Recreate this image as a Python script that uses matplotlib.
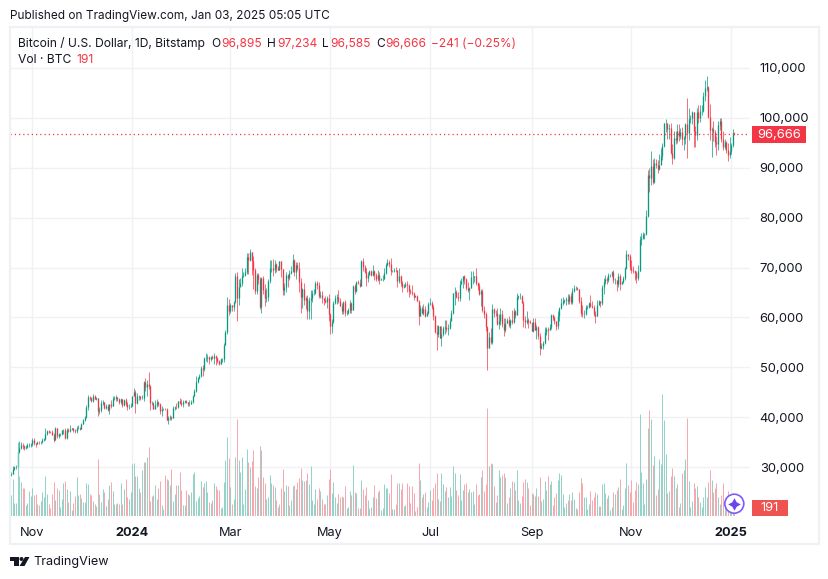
import numpy as np
import matplotlib
matplotlib.use("Agg")
import matplotlib.pyplot as plt
from matplotlib.patches import Rectangle, Circle, Polygon

plt.rcParams['font.family'] = ['Inter', 'DejaVu Sans']

# daily closes, thousands of USD, 19 Oct 2023 - 3 Jan 2025
closes = [
    28.7,29.7,30.0,30.0,33.0,33.9,34.5,34.2,33.9,34.1,34.5,34.5,34.65,
    35.4,34.9,34.7,35.1,35.0,35.0,35.4,35.6,36.7,37.3,37.1,37.0,36.5,35.5,37.9,36.2,36.6,36.6,37.4,37.5,35.8,37.4,37.3,37.7,37.8,37.5,37.2,37.8,37.9,37.7,
    38.7,39.5,40.0,42.0,44.0,43.8,43.3,44.2,43.7,43.8,41.2,41.5,42.9,43.0,41.9,42.3,41.4,42.6,42.3,43.7,43.9,44.0,43.7,43.0,43.6,42.5,43.4,42.6,42.1,42.1,42.3,
    44.2,45.0,42.8,44.2,44.2,43.9,43.9,47.0,46.1,46.6,46.3,42.8,42.9,41.7,42.5,43.1,42.7,41.3,41.6,41.7,41.6,39.5,39.9,40.1,39.9,41.8,42.1,42.0,43.3,42.9,42.6,
    43.1,43.2,43.0,42.6,42.7,43.1,44.3,45.3,47.1,47.8,48.3,49.9,49.7,51.8,51.9,52.1,51.6,52.1,51.8,52.3,51.9,51.3,50.7,51.6,51.7,54.5,57.1,62.5,61.2,
    62.4,62.0,63.1,68.3,63.8,66.1,66.9,68.3,68.5,69.0,72.1,71.5,73.1,71.4,69.5,65.3,68.4,67.6,62.0,67.9,65.5,63.8,64.0,67.2,69.9,69.9,69.5,70.7,69.9,69.6,71.3,
    69.7,65.5,66.0,68.5,67.8,68.9,69.4,71.6,69.1,70.6,70.0,67.1,64.0,65.7,63.4,63.8,61.3,63.5,63.8,64.9,64.9,66.8,66.4,64.3,64.5,63.8,63.4,63.1,63.8,60.6,
    58.3,59.1,62.9,63.9,64.0,63.2,62.3,61.2,63.0,60.8,60.8,61.5,62.9,61.5,66.2,65.2,67.0,66.9,66.3,71.4,70.1,69.1,67.9,68.5,69.3,68.5,69.4,68.4,67.6,68.4,67.5,
    67.7,67.7,68.8,70.5,71.1,70.8,69.3,69.3,69.6,69.5,67.3,68.2,66.8,66.0,66.2,66.6,66.5,65.2,65.0,64.9,64.1,64.3,63.2,60.3,61.8,60.9,61.6,60.3,60.9,62.7,
    62.9,62.0,60.2,57.0,56.6,58.2,55.9,56.7,57.9,58.0,57.7,57.9,59.2,60.8,64.8,65.1,64.1,63.9,66.7,67.2,68.2,67.6,65.9,65.4,65.8,68.0,68.0,68.3,66.8,66.2,64.6,
    65.3,61.5,60.7,58.1,53.9,56.0,55.1,61.7,60.8,60.9,58.7,59.3,60.6,58.7,57.5,58.9,59.5,58.4,59.5,59.0,61.2,60.4,64.1,64.2,64.2,62.9,59.5,59.0,59.4,59.1,58.9,
    57.3,59.1,57.5,58.0,56.2,53.9,54.2,54.9,57.1,57.7,57.4,58.1,60.5,60.0,59.2,58.2,60.3,61.8,62.9,63.2,63.4,63.6,63.3,64.3,63.1,65.2,65.8,65.9,65.6,63.3,
    60.8,60.6,60.7,62.1,62.1,62.8,62.2,62.1,60.6,60.3,62.4,63.2,62.8,66.0,67.0,67.6,67.4,68.4,68.4,69.0,67.4,67.4,66.7,68.2,66.6,67.0,67.9,69.9,72.7,72.3,70.2,
    69.5,69.3,68.8,67.8,69.4,75.6,75.9,76.5,76.7,80.4,88.6,88.0,90.4,87.2,91.0,90.6,89.8,90.5,92.3,94.3,98.9,98.9,97.7,98.0,93.0,91.9,95.9,95.6,97.4,96.4,
    97.2,95.8,96.0,98.7,96.9,99.8,99.9,101.2,97.3,96.6,101.1,100.0,101.4,101.4,104.4,106.0,106.1,100.2,97.5,97.7,97.2,95.1,94.7,98.6,99.4,95.7,94.1,95.2,93.5,92.6,93.4,
    94.5,96.895,96.666,
]
highs = [
    29.0,30.2,30.3,30.5,34.8,35.2,35.1,34.8,34.5,34.5,34.8,34.8,34.8,
    35.9,35.9,34.9,35.2,35.3,35.3,35.9,35.9,37.9,37.5,37.4,37.2,37.4,36.8,38.0,37.9,36.9,36.9,37.5,37.7,37.8,37.8,37.9,38.4,37.9,37.8,37.6,38.2,38.4,38.1,
    38.9,39.7,40.2,42.4,44.5,44.3,44.0,44.7,44.4,44.0,43.8,42.0,43.4,43.4,43.1,42.7,42.7,42.7,43.4,44.3,44.2,44.4,44.0,43.9,43.8,43.7,43.7,43.8,43.1,42.6,42.9,
    44.2,45.9,45.5,44.8,44.4,44.2,44.5,47.2,47.9,47.5,49.0,46.5,43.2,43.1,43.4,43.6,43.2,42.9,42.2,41.9,41.9,41.9,40.2,40.5,40.3,42.2,42.2,42.8,43.3,43.8,43.7,
    43.4,43.4,43.5,43.1,43.5,43.4,44.4,45.6,48.2,48.0,48.6,50.3,50.4,52.0,52.8,52.6,52.2,52.3,52.5,52.9,52.4,52.0,51.5,51.8,51.9,54.8,57.5,64.0,63.6,
    62.9,62.4,63.2,68.9,69.2,67.6,67.9,70.0,69.0,70.0,72.9,72.9,73.7,73.1,72.4,70.0,68.9,68.9,68.1,68.0,68.2,66.6,65.9,67.6,71.5,71.5,71.7,71.5,70.9,70.3,71.4,
    71.3,69.7,66.9,69.2,68.7,69.6,70.3,72.7,71.7,71.1,71.2,71.2,67.9,65.9,66.8,64.3,64.4,64.0,65.4,65.4,65.6,67.2,67.2,67.0,65.2,65.3,63.9,64.3,64.2,64.7,
    60.8,59.6,63.3,64.4,64.6,65.4,63.8,62.9,63.2,63.4,61.4,61.8,63.4,63.0,66.4,66.7,67.3,67.4,67.6,71.5,71.9,70.6,70.0,69.2,69.5,69.5,70.6,69.6,68.9,69.5,69.0,
    67.9,68.5,70.0,71.0,71.7,71.6,71.9,69.5,69.9,70.1,69.6,70.0,68.4,67.3,66.7,67.0,67.2,66.6,65.7,66.4,65.0,64.5,64.5,63.4,62.4,62.3,62.6,62.2,61.2,63.0,
    63.8,63.3,62.4,60.4,58.4,58.5,58.3,58.2,58.3,59.4,59.4,58.6,59.9,61.4,64.9,66.0,65.5,65.1,67.4,67.8,68.3,68.5,67.8,67.0,66.1,69.4,69.4,68.3,70.0,67.0,66.8,
    65.6,65.6,62.2,61.1,58.3,57.1,57.8,62.7,61.8,61.4,61.8,60.7,61.8,61.5,59.8,59.8,59.9,60.2,59.6,61.4,61.8,61.4,64.9,64.5,64.8,64.5,63.2,60.2,61.2,59.9,59.4,
    59.0,59.8,59.8,58.5,58.3,56.9,54.9,55.2,58.1,58.0,58.0,58.6,60.6,60.6,60.3,59.2,61.3,62.0,63.8,64.0,63.6,64.1,64.7,64.6,64.8,65.8,66.4,66.2,66.0,65.7,
    64.1,62.4,61.5,62.5,62.4,63.0,64.5,63.2,62.5,61.3,63.4,63.4,63.2,66.5,67.9,68.4,68.0,68.9,68.7,69.4,69.5,67.8,67.4,68.8,68.7,67.3,68.2,70.2,73.6,72.7,72.7,
    71.6,70.4,69.5,69.4,70.6,76.4,76.9,77.2,77.0,81.5,89.5,89.9,93.4,91.8,91.9,91.8,91.6,92.7,94.0,94.9,99.0,99.7,99.0,98.7,98.9,94.7,97.4,97.4,98.7,98.7,
    98.0,98.1,96.4,99.0,103.9,101.9,100.6,101.4,101.2,98.3,101.9,102.5,102.6,102.6,105.1,107.5,108.3,106.4,102.8,98.2,99.4,97.5,96.4,99.4,99.9,99.9,97.4,95.7,95.4,94.9,96.1,
    95.0,97.8,97.234,
]
lows = [
    28.2,28.6,29.5,29.7,29.9,32.8,33.7,33.7,33.4,33.7,33.9,34.0,34.0,
    34.3,34.5,34.1,34.6,34.6,34.7,34.8,35.3,35.5,36.4,36.8,36.8,36.4,35.0,35.4,35.9,35.9,36.2,36.4,36.7,35.7,35.6,37.0,37.1,37.5,37.1,36.8,36.8,37.6,37.5,
    37.6,38.6,39.3,39.9,41.4,43.4,43.0,43.1,43.6,43.4,40.3,40.7,41.0,42.5,41.7,41.7,41.3,40.6,41.9,42.2,43.4,43.3,43.3,42.6,42.7,42.1,42.2,42.3,41.4,41.6,42.0,
    42.2,44.2,40.8,42.6,43.4,43.4,43.6,43.2,45.3,44.3,45.6,41.5,42.4,41.7,41.7,42.0,42.2,40.7,40.3,41.4,41.5,39.4,38.6,39.5,39.5,39.8,41.4,41.6,41.8,42.7,42.3,
    42.0,42.9,42.9,42.3,42.3,42.6,42.9,44.3,45.1,46.8,47.6,48.1,48.3,49.3,51.3,51.0,50.6,51.2,51.7,50.7,50.5,50.9,50.5,50.6,51.1,51.0,54.4,56.7,60.4,
    60.8,61.3,61.2,62.8,59.2,62.5,66.2,66.2,68.0,68.2,68.6,68.7,71.3,68.5,65.7,64.7,64.6,66.6,61.6,60.8,64.6,62.3,63.0,63.2,66.9,69.2,68.3,68.9,69.2,69.5,69.6,
    68.1,64.5,64.5,65.1,66.0,67.5,68.7,69.0,68.2,67.6,69.6,65.0,60.8,61.9,62.4,61.7,59.7,59.7,59.7,63.1,64.5,64.6,65.7,63.9,63.8,62.9,62.5,62.8,61.9,59.2,
    56.6,56.9,58.8,62.6,62.7,62.9,62.2,60.7,60.7,60.3,60.5,60.7,60.8,60.8,61.4,64.7,65.0,66.6,66.1,66.2,69.3,68.8,66.2,67.0,68.5,68.3,68.3,67.4,67.2,67.2,66.7,
    67.4,67.2,67.6,68.6,70.4,70.2,68.5,69.1,69.1,69.2,66.1,66.9,66.2,65.1,65.9,66.0,65.1,64.1,64.7,64.5,63.4,64.0,63.2,58.5,60.3,60.6,60.4,60.0,60.3,60.7,
    62.4,61.7,59.4,56.8,53.5,56.0,55.8,54.3,56.3,56.6,57.0,56.5,57.7,59.7,60.6,62.4,63.9,63.3,63.3,66.7,65.8,66.6,65.5,65.1,63.4,65.8,66.7,67.0,66.5,65.4,64.4,
    62.3,61.1,59.9,57.2,49.5,53.9,54.6,54.7,60.0,60.3,58.5,57.7,58.4,58.1,56.2,57.1,58.8,58.1,57.9,58.6,58.8,59.8,60.4,63.6,63.6,62.8,58.1,57.8,58.7,57.9,58.8,
    57.2,57.1,57.4,55.6,55.6,52.5,53.7,53.6,54.6,56.4,55.5,57.4,57.6,59.5,58.7,57.5,57.6,59.2,61.7,62.4,62.8,62.4,62.7,62.7,62.7,62.7,65.1,65.4,65.4,62.9,
    60.2,60.0,59.8,60.5,61.7,61.9,62.1,61.8,60.3,58.9,60.3,62.4,62.1,62.5,64.6,66.7,66.7,67.1,68.0,68.1,66.8,66.6,65.3,66.0,65.5,66.6,66.8,67.5,69.7,71.5,69.6,
    68.9,68.8,67.5,66.9,67.5,69.3,74.5,75.7,75.8,76.5,80.2,85.2,86.6,86.7,87.0,90.0,88.9,89.6,90.9,91.6,94.1,97.2,95.7,95.8,92.7,90.8,91.7,94.7,95.0,95.4,
    95.8,94.5,93.6,94.7,91.9,95.5,98.9,98.7,94.2,94.2,95.6,99.0,99.2,100.6,101.2,103.3,105.3,99.9,95.6,92.2,95.3,94.2,92.5,93.5,97.6,95.1,93.5,93.8,92.9,91.3,91.9,
    92.7,94.2,96.585,
]
# volume, units of 50 BTC
volumes = [
    21,37,13,13,74,40,34,28,28,11,13,25,20,
    28,21,22,12,11,15,24,19,40,22,12,8,22,34,16,28,26,9,17,33,35,27,14,25,6,13,20,39,21,22,
    18,14,14,33,32,22,21,15,12,10,57,22,14,27,24,10,17,31,34,25,12,12,13,12,33,12,27,37,19,17,24,
    52,53,40,40,28,24,46,54,54,59,69,15,20,21,31,17,28,35,11,7,41,37,36,31,47,15,22,31,31,44,26,
    11,11,26,22,21,24,42,44,15,18,20,
    35,29,33,35,24,14,13,16,33,30,27,26,8,9,34,56,79,58,29,12,
    17,59,97,56,44,59,12,27,67,54,49,55,66,30,28,39,70,66,39,33,
    17,19,41,33,31,29,16,9,12,28,47,25,31,30,11,16,30,31,27,34,
    38,48,36,35,36,43,32,50,16,12,27,17,28,25,17,12,12,21,37,47,
    23,34,19,13,22,19,20,19,30,8,9,25,21,51,24,23,8,8,36,27,
    21,29,16,8,9,19,31,18,24,26,6,8,32,28,28,23,42,7,7,12,
    33,33,27,33,10,11,33,30,13,30,23,5,9,53,36,19,22,24,9,14,
    26,16,28,33,43,17,15,43,32,25,29,19,29,20,50,43,26,21,42,16,
    26,32,33,24,27,24,25,12,32,21,22,39,46,25,32,108,50,53,52,30,
    14,21,46,39,41,43,39,13,19,28,35,34,26,46,16,13,20,34,37,34,
    28,11,23,22,20,28,20,39,15,17,35,26,40,32,35,11,19,23,36,43,
    41,22,9,13,16,22,16,24,17,8,7,24,38,33,19,19,7,12,25,16,
    19,24,22,10,
    10,32,33,23,18,21,6,9,24,22,26,29,37,7,11,28,53,31,24,36,
    14,26,34,32,102,44,33,12,37,88,106,97,51,60,21,27,57,52,122,96,
    62,23,25,40,48,40,28,32,9,13,43,46,57,98,35,9,15,33,28,30,
    19,14,9,19,29,19,34,46,36,24,28,33,19,12,21,33,10,17,25,6,
    4,3,3,
]
first_open = 28.4
last_close = 96.666

price_ticks = [30, 40, 50, 60, 70, 80, 90, 100, 110]
price_labels = ['30,000', '40,000', '50,000', '60,000', '70,000', '80,000', '90,000', '100,000', '110,000']
time_ticks = [13, 74, 134, 195, 256, 318, 379, 440]
time_labels = ['Nov', '2024', 'Mar', 'May', 'Jul', 'Sep', 'Nov', '2025']

n = len(closes)
if not (n == len(highs) == len(lows) == len(volumes)):
    raise SystemExit(f"lengths {n} {len(highs)} {len(lows)} {len(volumes)}")

UP = '#089981'
DOWN = '#f23645'
GRID = '#f0f1f5'
TEXT = '#131722'

W, H = 829, 579
fig = plt.figure(figsize=(W / 100, H / 100), dpi=100, facecolor='white')


def pane(left, top, right, bottom):
    return [left / W, 1 - bottom / H, (right - left) / W, (bottom - top) / H]


# price pane
rect = pane(10.5, 27.5, 750, 516)
ax = fig.add_axes(rect, zorder=1)
xs = np.arange(n)
c = np.array(closes)
o = np.r_[first_open, c[:-1]]
up = c >= o
col = np.where(up, UP, DOWN)
ax.vlines(xs, lows, highs, colors=col, lw=0.5)
ax.vlines(xs, o, c, colors=col, lw=0.95)
ax.axhline(last_close, color=DOWN, lw=0.9, ls=(0, (1, 2.4)))
ax.set_xlim(-0.35, 451.5)
ax.set_ylim(20.2, 118.1)
ax.set_yticks(price_ticks, price_labels)
ax.set_xticks(time_ticks, time_labels)
ax.yaxis.tick_right()
ax.tick_params(axis='y', length=0, pad=7, labelsize=9.3, labelcolor=TEXT)
ax.tick_params(axis='x', length=0, pad=8, labelsize=9.2, labelcolor=TEXT)
for lab in ax.get_yticklabels():
    lab.set_verticalalignment('center_baseline')
for lab in ax.get_xticklabels():
    if lab.get_text() in ('2024', '2025'):
        lab.set_fontweight('bold')
ax.grid(True, color=GRID, lw=1)
ax.set_axisbelow(True)
for s in ax.spines.values():
    s.set_visible(False)

# volume pane, same width, one unit is one pixel high
vx = fig.add_axes(rect, zorder=2)
vx.patch.set_alpha(0)
vx.vlines(xs, 0, volumes, colors=np.where(up, '#84ccc0', '#f89aa2'), lw=0.62)
vx.set_xlim(ax.get_xlim())
vx.set_ylim(0, 488.5)
vx.axis('off')

# page furniture in pixel coordinates
ui = fig.add_axes([0, 0, 1, 1], zorder=3)
ui.set_xlim(0, W)
ui.set_ylim(H, 0)
ui.axis('off')
ui.patch.set_alpha(0)
ui.add_patch(Rectangle((10, 27), 809, 517, fill=False, ec=GRID, lw=1.6))

ui.text(10, 16, 'Published on TradingView.com, Jan 03, 2025 05:05 UTC', fontsize=8.5, color=TEXT, va='center')
ui.text(18, 43.7, 'Bitcoin / U.S. Dollar, 1D, Bitstamp', fontsize=8.7, color=TEXT, va='center')
ui.text(18, 59.7, 'Vol · BTC', fontsize=8.7, color=TEXT, va='center')
ui.text(76, 59.7, '191', fontsize=8.7, color=DOWN, va='center')
for xp, label, colr in [(211, 'O', TEXT), (221, '96,895', DOWN), (267, 'H', TEXT), (277, '97,234', DOWN),
                        (322, 'L', TEXT), (330, '96,585', DOWN), (376, 'C', TEXT), (385, '96,666', DOWN),
                        (431, '−241 (−0.25%)', DOWN)]:
    ui.text(xp, 43.7, label, fontsize=8.6, color=colr, va='center')

ui.add_patch(Rectangle((752, 126), 54.5, 16.5, color=DOWN, lw=0))
ui.text(779.5, 134.5, '96,666', color='white', fontsize=9.3, ha='center', va='center')
ui.add_patch(Rectangle((752, 500), 36, 16, color='#ef5350', lw=0))
ui.text(770, 508, '191', color='white', fontsize=9.3, ha='center', va='center')

ui.add_patch(Circle((734.3, 503.7), 9.5, fc='white', ec='#7c5cf5', lw=1.2))
ui.plot([734.3], [503.7], marker=(4, 1, 0), ms=9, color='#6a45f0', mew=0)

# logo
ui.add_patch(Polygon([(10, 557), (19, 557), (19, 566), (14.5, 566), (14.5, 561), (10, 561)], color=TEXT, lw=0))
ui.add_patch(Circle((21.5, 559), 2, color=TEXT, lw=0))
ui.add_patch(Polygon([(25, 557), (29.5, 557), (24.5, 566), (19.5, 566)], color=TEXT, lw=0))
ui.text(33.5, 562.5, 'TradingView', fontsize=9.1, color=TEXT, va='center')

fig.savefig('out.png', dpi=100)
